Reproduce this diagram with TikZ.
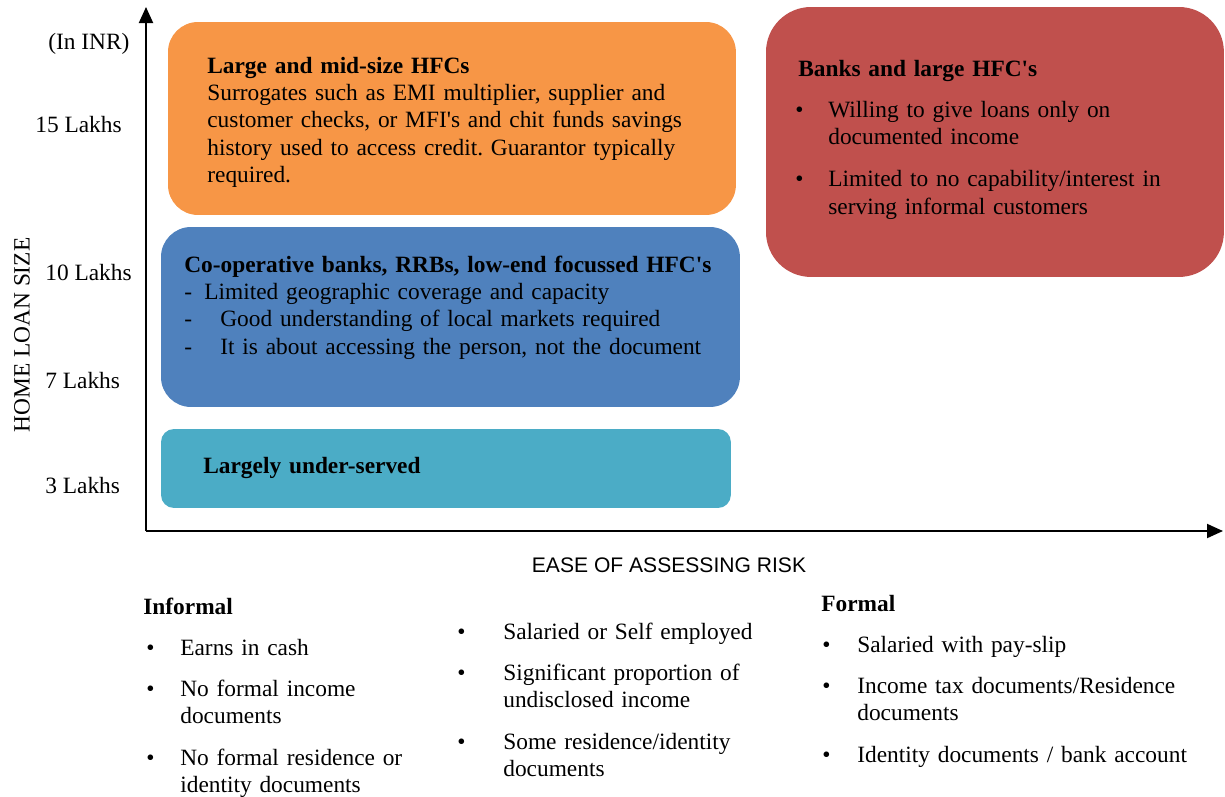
\documentclass[tikz,border=0pt]{standalone}
\usepackage{fontspec}
\setmainfont{Liberation Serif}
\setsansfont{Liberation Sans}
\usetikzlibrary{arrows.meta}

\definecolor{hfcOrange}{HTML}{F79646}
\definecolor{coopBlue}{HTML}{4F81BD}
\definecolor{underTeal}{HTML}{4BACC6}
\definecolor{bankRed}{HTML}{C0504D}

\frenchspacing
\newcommand{\txtsize}{\fontsize{13.3}{15.6}\selectfont}
\newcommand{\bul}[1][0.66cm]{\leavevmode\llap{\makebox[#1][l]{\textbullet}}\ignorespaces}
\newcommand{\apos}{\textquotesingle}

\tikzstyle{regionBox}=[draw=none,inner sep=0pt,outer sep=0pt,anchor=north west]
\tikzstyle{boxText}=[inner sep=0pt,anchor=base west,text width=15cm,align=left,font=\txtsize]
\tikzstyle{sizeLabel}=[inner sep=0pt,anchor=base west,font=\txtsize]
\tikzstyle{axis}=[line width=1.1pt,-{Triangle[length=0.32cm,width=0.28cm]}]

\begin{document}
\begin{tikzpicture}[x=0.02cm,y=-0.02cm]
        \useasboundingbox (0,0) rectangle (1225,796);

        % segments
        \node[regionBox,fill=hfcOrange,rounded corners=0.6cm,minimum width=11.36cm,minimum height=3.86cm] (large) at (168,22) {};
        \node[regionBox,fill=coopBlue,rounded corners=0.6cm,minimum width=11.58cm,minimum height=3.6cm] (coop) at (161,227) {};
        \node[regionBox,fill=underTeal,rounded corners=0.26cm,minimum width=11.4cm,minimum height=1.58cm] (under) at (161,429) {};
        \node[regionBox,fill=bankRed,rounded corners=0.9cm,minimum width=9.16cm,minimum height=5.4cm] (banks) at (766,7) {};

        % axes
        \coordinate (origin) at (146,531);
        \coordinate (yTop) at (146,7);
        \coordinate (xEnd) at (1223,531);
        \draw[axis] (origin) -- (yTop);
        \draw[axis] (origin) -- (xEnd);

        \node[sizeLabel] (inr) at (48,49) {(In INR)};
        \node[sizeLabel] (l15) at (35,132) {15 Lakhs};
        \node[sizeLabel] (l10) at (45,280) {10 Lakhs};
        \node[sizeLabel] (l7) at (45,388) {7 Lakhs};
        \node[sizeLabel] (l3) at (45,493) {3 Lakhs};
        \node[font=\txtsize,rotate=90,inner sep=0pt] (ylab) at (22,335) {HOME LOAN SIZE};
        \node[font=\sffamily\fontsize{12}{14}\selectfont,inner sep=0pt,anchor=base] (xlab) at (669,572) {EASE OF ASSESSING RISK};

        % texts in the segments
        \node[boxText] (largeText) at (207,73) {\textbf{Large and mid-size HFCs}\\
            Surrogates such as EMI multiplier, supplier and\\
            customer checks, or MFI\apos s and chit funds savings\\
            history used to access credit. Guarantor typically\\
            required.};
        \node[boxText] (coopText) at (184,272) {\textbf{Co-operative banks, RRBs, low-end focussed HFC\apos s}\\
            \makebox[0.4cm][l]{-}Limited geographic coverage and capacity\\
            \makebox[0.72cm][l]{-}Good understanding of local markets required\\
            \makebox[0.72cm][l]{-}It is about accessing the person, not the document};
        \node[boxText] (underText) at (203,473) {\textbf{Largely under-served}};
        \node[boxText] (banksHead) at (798,76) {\textbf{Banks and large HFC\apos s}};
        \node[boxText] (banksList) at (828,117) {\bul Willing to give loans only on\\
            documented income\\[0.3cm]
            \bul Limited to no capability/interest in\\
            serving informal customers};

        % borrower profiles
        \node[boxText] (informalHead) at (143,614) {\textbf{Informal}};
        \node[boxText] (informalList) at (180,655) {\bul[0.68cm] Earns in cash\\[0.28cm]
            \bul[0.68cm] No formal income\\
            documents\\[0.28cm]
            \bul[0.68cm] No formal residence or\\
            identity documents};
        \node[boxText] (midList) at (503,639) {\bul[0.92cm] Salaried or Self employed\\[0.28cm]
            \bul[0.92cm] Significant proportion of\\
            undisclosed income\\[0.28cm]
            \bul[0.92cm] Some residence/identity\\
            documents};
        \node[boxText] (formalHead) at (821,611) {\textbf{Formal}};
        \node[boxText] (formalList) at (857,652) {\bul[0.7cm] Salaried with pay-slip\\[0.28cm]
            \bul[0.7cm] Income tax documents/Residence\\
            documents\\[0.28cm]
            \bul[0.7cm] Identity documents / bank account};
\end{tikzpicture}
\end{document}
